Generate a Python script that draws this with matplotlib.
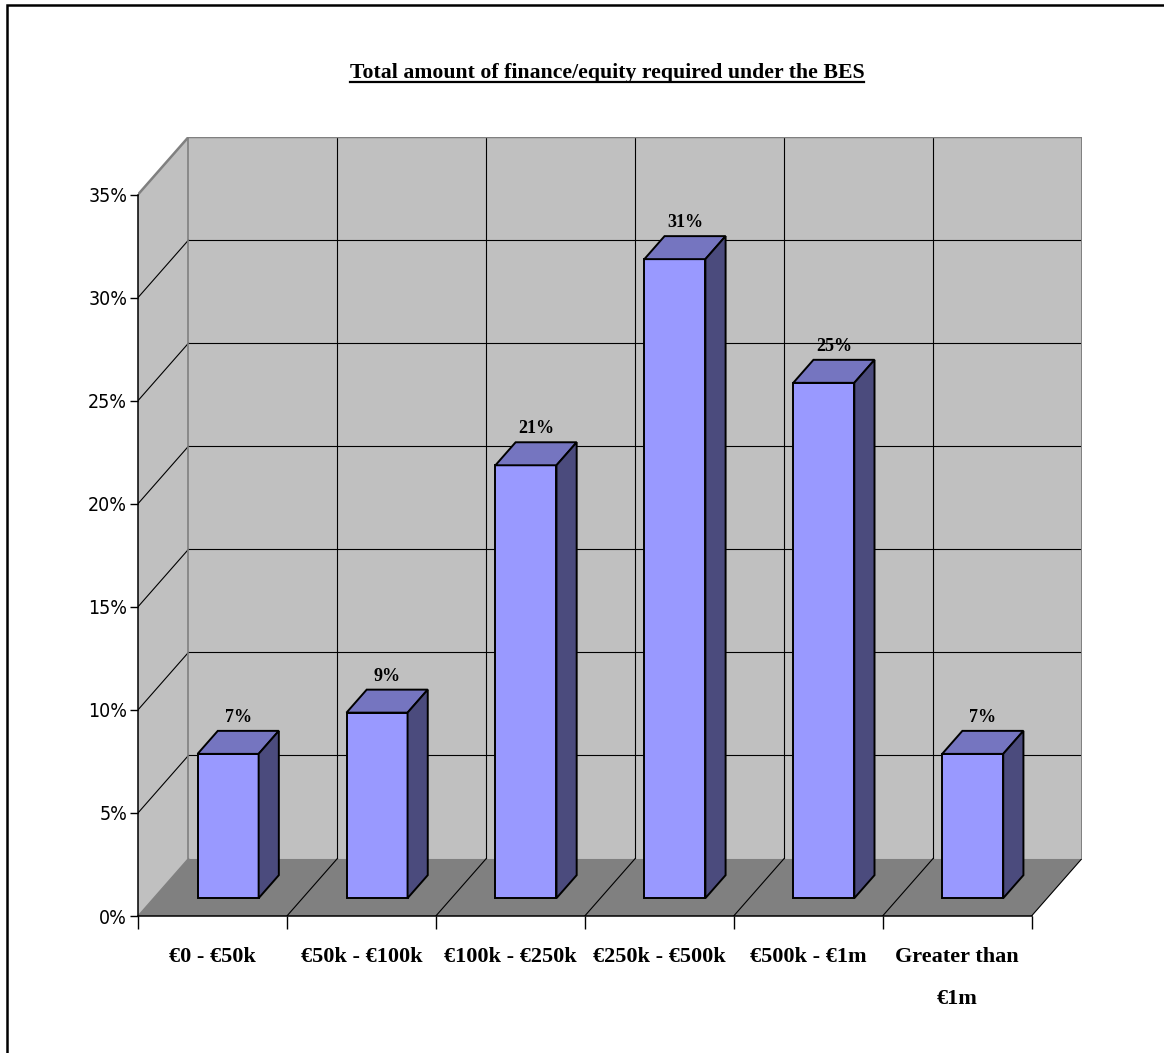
import matplotlib
matplotlib.use('Agg')
import matplotlib.pyplot as plt
from matplotlib.patches import Polygon
from matplotlib.lines import Line2D
from matplotlib.ticker import FixedLocator, NullFormatter
import numpy as np

# ---------------- data ----------------
categories = ['€0 - €50k', '€50k - €100k', '€100k - €250k',
              '€250k - €500k', '€500k - €1m', 'Greater than\n€1m']
values = [7, 9, 21, 31, 25, 7]
value_labels = ['7%', '9%', '21%', '31%', '25%', '7%']
yticks = [0, 5, 10, 15, 20, 25, 30, 35]
ytick_labels = ['0%', '5%', '10%', '15%', '20%', '25%', '30%', '35%']
title = 'Total amount of finance/equity required under the BES'

# ---------------- styling / geometry ----------------
W, H = 1164, 1053
DX = 0.339      # depth shift (category units)
DY = 2.79       # depth shift (percent units)
D0, D1 = 0.31, 0.71   # bar front / back depth fraction
BW = 0.41
YMAX = 35
n = len(categories)

WALL = '#C0C0C0'
FLOOR = '#808080'
EDGE_GREY = '#808080'
BAR_FRONT = '#9999FF'
BAR_TOP = '#7575C0'
BAR_SIDE = '#4B4B7D'

serif = ['Liberation Serif', 'DejaVu Serif']
narrow = ['DejaVu Sans']

fig = plt.figure(figsize=(W / 100, H / 100), dpi=100)
fig.patch.set_facecolor('white')

ax = fig.add_axes([138 / W, (H - 916) / H, (1082 - 138) / W, (916 - 137) / H])
ax.set_xlim(0, n + DX)
ax.set_ylim(0, YMAX + DY)
ax.patch.set_visible(False)

# walls and floor
ax.add_patch(Polygon([(DX, DY), (n + DX, DY), (n + DX, YMAX + DY), (DX, YMAX + DY)],
                     closed=True, fc=WALL, ec='none', zorder=0))
ax.add_patch(Polygon([(0, 0), (DX, DY), (DX, YMAX + DY), (0, YMAX)],
                     closed=True, fc=WALL, ec='none', zorder=0))
ax.add_patch(Polygon([(0, 0), (n, 0), (n + DX, DY), (DX, DY)],
                     closed=True, fc=FLOOR, ec='none', zorder=0))

# gridlines
glw = 0.8
for y in yticks[1:-1]:
    ax.plot([DX, n + DX], [y + DY, y + DY], color='black', lw=glw, zorder=1)
    ax.plot([0, DX], [y, y + DY], color='black', lw=glw, zorder=1)
for k in range(1, n):
    ax.plot([k + DX, k + DX], [DY, YMAX + DY], color='black', lw=glw, zorder=1)
    ax.plot([k, k + DX], [0, DY], color='black', lw=glw, zorder=1)
ax.plot([n, n + DX], [0, DY], color='black', lw=glw, zorder=1)
ax.plot([0, DX], [0, DY], color=EDGE_GREY, lw=1.0, zorder=1)
# grey frame edges
ax.plot([DX, DX], [DY, YMAX + DY], color=EDGE_GREY, lw=1.2, zorder=1)
ax.plot([n + DX, n + DX], [DY, YMAX + DY], color=EDGE_GREY, lw=1.4, zorder=1)
ax.plot([0, DX, n + DX], [YMAX, YMAX + DY, YMAX + DY], color=EDGE_GREY, lw=1.8,
        zorder=1, solid_joinstyle='miter')

# bars
xc = np.arange(n) + 0.5
x_front = xc + D0 * DX
b0 = D0 * DY
dd = (D1 - D0) * DX
ddy = (D1 - D0) * DY
ax.bar(x_front, values, width=BW, bottom=b0, color=BAR_FRONT, edgecolor='black',
       linewidth=1.4, zorder=3, joinstyle='miter')
for xf, v, lab in zip(x_front, values, value_labels):
    xl, xr = xf - BW / 2, xf + BW / 2
    top = v + b0
    ax.add_patch(Polygon([(xl, top), (xr, top), (xr + dd, top + ddy), (xl + dd, top + ddy)],
                         closed=True, fc=BAR_TOP, ec='black', lw=1.4, zorder=3,
                         joinstyle='miter'))
    ax.add_patch(Polygon([(xr, b0), (xr + dd, b0 + ddy), (xr + dd, top + ddy), (xr, top)],
                         closed=True, fc=BAR_SIDE, ec='black', lw=1.4, zorder=3,
                         joinstyle='miter'))
    ax.annotate(lab, xy=(xf + dd / 2, top + ddy), xytext=(0, 3.5),
                textcoords='offset points', ha='center', va='bottom',
                fontsize=13, fontweight='bold', family=serif, zorder=4)

# axes spines / ticks
for s in ['top', 'right']:
    ax.spines[s].set_visible(False)
ax.spines['left'].set_bounds(0, YMAX)
ax.spines['bottom'].set_bounds(0, n)
ax.spines['left'].set_linewidth(1.1)
ax.spines['bottom'].set_linewidth(1.1)
ax.spines['left'].set_zorder(5)
ax.spines['bottom'].set_zorder(5)

ax.set_yticks(yticks)
ax.set_yticklabels(ytick_labels, family=narrow, fontsize=14, fontstretch='condensed')
ax.tick_params(axis='y', direction='out', length=5.8, width=1.0, pad=2)

ax.xaxis.set_major_locator(FixedLocator(list(range(n + 1))))
ax.xaxis.set_major_formatter(NullFormatter())
ax.xaxis.set_minor_locator(FixedLocator(list(xc)))
ax.set_xticklabels(categories, minor=True, family=serif, fontsize=16,
                   fontweight='bold', linespacing=2.5)
ax.tick_params(axis='x', which='major', direction='out', length=9.4, width=1.0)
ax.tick_params(axis='x', which='minor', length=0, pad=22)

# title with underline
t = fig.text(607 / W, 1 - 78 / H, title, ha='center', va='baseline',
             fontsize=15.7, fontweight='bold', family=serif)
renderer = fig.canvas.get_renderer()
bb = t.get_window_extent(renderer)
fig.add_artist(Line2D([bb.x0 / W, bb.x1 / W], [1 - 82 / H, 1 - 82 / H],
                      transform=fig.transFigure, color='black', lw=1.6))

# outer frame (top and left only visible)
fig.add_artist(Line2D([7 / W, 7 / W, 1.0], [0.0, 1 - 5 / H, 1 - 5 / H],
                      transform=fig.transFigure, color='black', lw=1.8,
                      solid_joinstyle='miter'))

fig.savefig('out.png', dpi=100)
